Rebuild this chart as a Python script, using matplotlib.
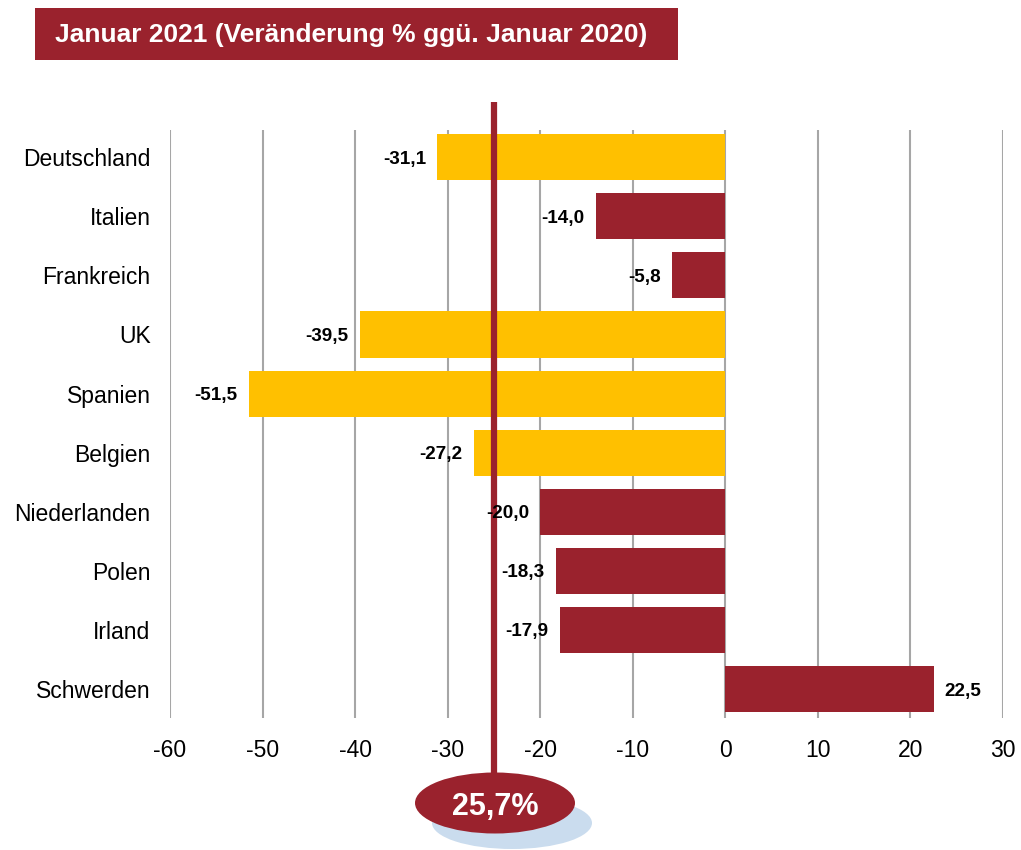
import matplotlib.pyplot as plt
from matplotlib.patches import Ellipse, Rectangle
import numpy as np

plt.rcParams['font.family'] = ['Liberation Sans', 'DejaVu Sans']
plt.rcParams['axes.unicode_minus'] = False

# Daten
laender = ["Deutschland", "Italien", "Frankreich", "UK", "Spanien", "Belgien",
           "Niederlanden", "Polen", "Irland", "Schwerden"]
werte = [-31.1, -14.0, -5.8, -39.5, -51.5, -27.2, -20.0, -18.3, -17.9, 22.5]
hervorgehoben = [True, False, False, True, True, True, False, False, False, False]
xticks = [-60, -50, -40, -30, -20, -10, 0, 10, 20, 30]
titel = "Januar 2021 (Veränderung % ggü. Januar 2020)"
marker_wert = -25.0
marker_text = "25,7%"

rot = "#9A222D"
gelb = "#FFC000"
grau = "#A6A6A6"

W, H = 1021, 850
fig = plt.figure(figsize=(W / 100, H / 100), dpi=100)
ax = fig.add_axes([170 / W, 1 - 718 / H, (1003 - 170) / W, (718 - 130) / H])

y = np.arange(len(laender))
farben = [gelb if h else rot for h in hervorgehoben]
ax.barh(y, werte, height=0.78, color=farben, zorder=3)

ax.set_xlim(-60, 30)
ax.set_ylim(len(laender) - 0.51, -0.46)
ax.set_xticks(xticks)
ax.set_yticks(y)
ax.set_yticklabels(laender, fontsize=16.5)
ax.tick_params(axis="x", length=0, pad=15, labelsize=16.5)
ax.tick_params(axis="y", length=0, pad=14)
ax.grid(axis="x", color=grau, linewidth=1.5, zorder=0)
for s in ax.spines.values():
    s.set_visible(False)

# Werte beschriften
for yi, v in zip(y, werte):
    txt = f"{v:.1f}".replace(".", ",")
    if v < 0:
        ax.annotate(txt, (v, yi), xytext=(-8, 0), textcoords="offset points",
                    ha="right", va="center_baseline", fontsize=13.6,
                    fontweight="bold", zorder=8)
    else:
        ax.annotate(txt, (v, yi), xytext=(8, 0), textcoords="offset points",
                    ha="left", va="center_baseline", fontsize=13.6,
                    fontweight="bold", zorder=8)

# Markierungslinie
trans = ax.get_xaxis_transform()
ax.plot([marker_wert, marker_wert], [1.048, -0.13], transform=trans, color=rot,
        linewidth=4.5, clip_on=False, zorder=6, solid_capstyle="butt")

# Ellipse unten
fig.patches.append(Ellipse((512 / W, 1 - 823 / H), 160 / W, 52 / H,
                           transform=fig.transFigure, facecolor="#CADCEE",
                           edgecolor="none", zorder=1))
fig.patches.append(Ellipse((495 / W, 1 - 803 / H), 160 / W, 61 / H,
                           transform=fig.transFigure, facecolor=rot,
                           edgecolor="none", zorder=2))
fig.text(495 / W, 1 - 803 / H, marker_text, color="white", fontsize=22,
         fontweight="bold", ha="center", va="center_baseline", zorder=10)

# Titel
fig.patches.append(Rectangle((35 / W, 1 - 60 / H), (678 - 35) / W, 52 / H,
                             transform=fig.transFigure, facecolor=rot,
                             edgecolor="none"))
fig.text(55 / W, 1 - 35 / H, titel, color="white", fontsize=19,
         fontweight="bold", ha="left", va="center")

fig.savefig("out.png", dpi=100)
